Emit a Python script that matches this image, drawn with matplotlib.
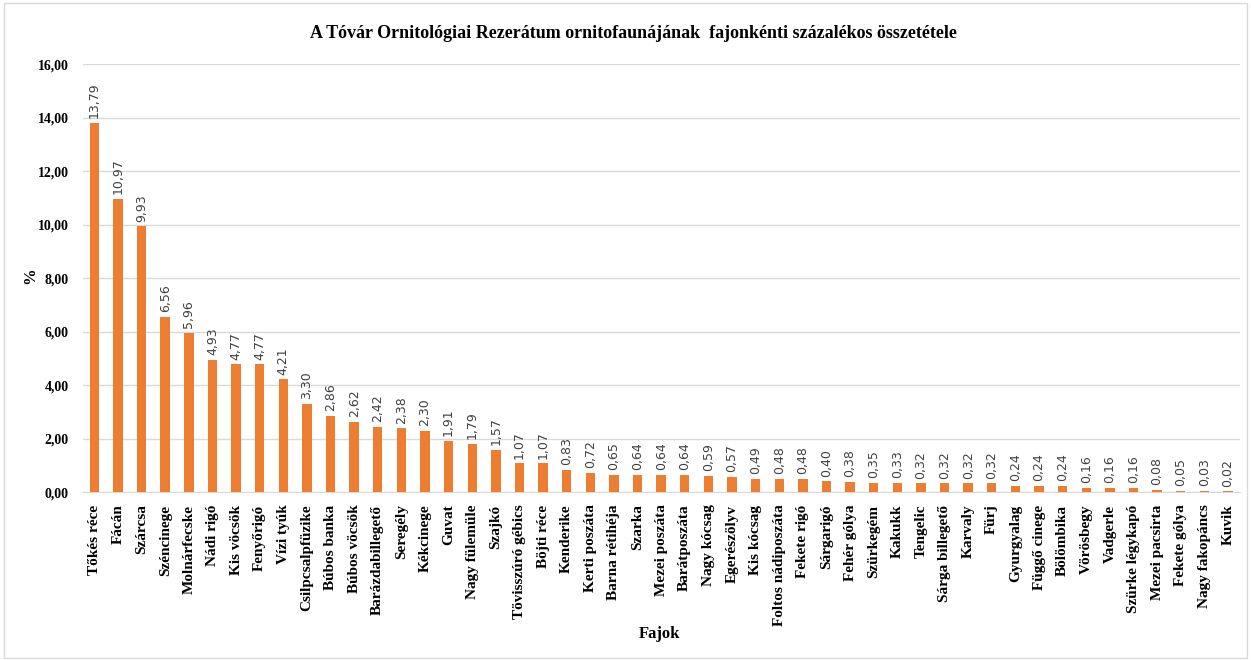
import matplotlib.pyplot as plt
from matplotlib.patches import Rectangle

# === Datos ===
fajok = ["Tőkés réce", "Fácán", "Szárcsa", "Széncinege", "Molnárfecske", "Nádi rigó",
         "Kis vöcsök", "Fenyőrigó", "Vízi tyúk", "Csilpcsalpfüzike", "Búbos banka",
         "Búbos vöcsök", "Barázdabillegető", "Seregély", "Kékcinege", "Guvat",
         "Nagy fülemüle", "Szajkó", "Tövisszúró gébics", "Böjti réce", "Kenderike",
         "Kerti poszáta", "Barna rétihéja", "Szarka", "Mezei poszáta", "Barátposzáta",
         "Nagy kócsag", "Egerészölyv", "Kis kócsag", "Foltos nádiposzáta", "Fekete rigó",
         "Sárgarigó", "Fehér gólya", "Szürkegém", "Kakukk", "Tengelic", "Sárga billegető",
         "Karvaly", "Fürj", "Gyurgyalag", "Függő cinege", "Bölömbika", "Vörösbegy",
         "Vadgerle", "Szürke légykapó", "Mezei pacsirta", "Fekete gólya", "Nagy fakopáncs",
         "Kuvik"]
szazalek = [13.79, 10.97, 9.93, 6.56, 5.96, 4.93, 4.77, 4.77, 4.21, 3.30, 2.86, 2.62,
            2.42, 2.38, 2.30, 1.91, 1.79, 1.57, 1.07, 1.07, 0.83, 0.72, 0.65, 0.64,
            0.64, 0.64, 0.59, 0.57, 0.49, 0.48, 0.48, 0.40, 0.38, 0.35, 0.33, 0.32,
            0.32, 0.32, 0.32, 0.24, 0.24, 0.24, 0.16, 0.16, 0.16, 0.08, 0.05, 0.03, 0.02]
y_ticks = [0, 2, 4, 6, 8, 10, 12, 14, 16]

serif = "Liberation Serif"

fig = plt.figure(figsize=(12.51, 6.60), dpi=100)
fig.patches.append(Rectangle((0.003, 0.003), 0.994, 0.992, transform=fig.transFigure,
                             fill=False, edgecolor="#D9D9D9", linewidth=1))
ax = fig.add_axes([0.066, 0.2545, 0.925, 0.6485])

x = list(range(len(fajok)))
ax.bar(x, szazalek, width=0.4, color="#ED7D31", zorder=3)

for xi, v in zip(x, szazalek):
    ax.text(xi, v + 0.18, f"{v:.2f}".replace(".", ","), rotation=90, ha="center",
            va="bottom", fontsize=9, color="#404040", family="DejaVu Sans")

ax.set_xlim(-0.5, len(fajok) - 0.5)
ax.set_ylim(0, 16)
ax.set_yticks(y_ticks)
ax.set_yticklabels([f"{t:.2f}".replace(".", ",") for t in y_ticks],
                   family=serif, fontweight="bold", fontsize=10)
ax.set_xticks(x)
ax.set_xticklabels(fajok, rotation=90, family=serif, fontweight="bold", fontsize=11)
ax.tick_params(axis="both", length=0)
ax.tick_params(axis="x", pad=9)
ax.tick_params(axis="y", pad=10)

ax.grid(axis="y", color="#D9D9D9", linewidth=1, zorder=0)
for s in ["top", "right", "left"]:
    ax.spines[s].set_visible(False)
ax.spines["bottom"].set_color("#D9D9D9")

fig.text(0.506, 0.95, "A Tóvár Ornitológiai Rezerátum ornitofaunájának  fajonkénti százalékos összetétele",
         ha="center", va="center", family=serif, fontweight="bold", fontsize=13)
fig.text(0.024, 0.583, "%", rotation=90, ha="center", va="center",
         family=serif, fontweight="bold", fontsize=12)
fig.text(0.527, 0.04, "Fajok", ha="center", va="center",
         family=serif, fontweight="bold", fontsize=12)

plt.savefig("out.png", dpi=100)
plt.close()
